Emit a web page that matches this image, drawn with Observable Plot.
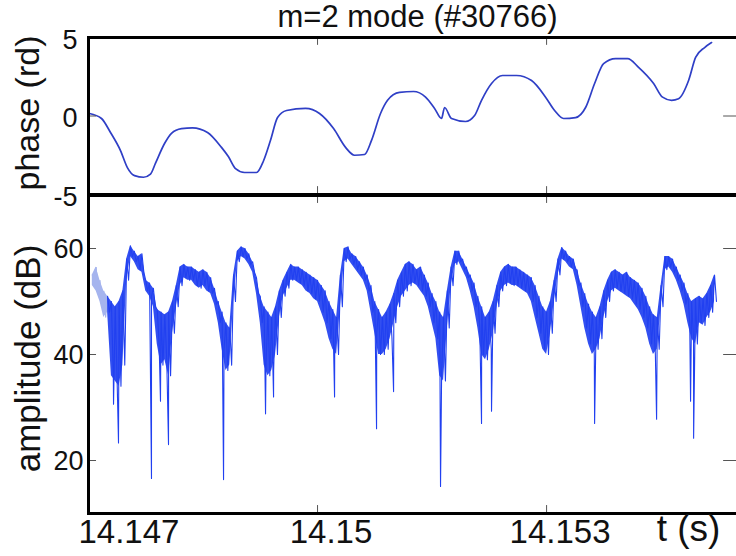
<!DOCTYPE html>
<html><head><meta charset="utf-8">
<script src="https://cdn.jsdelivr.net/npm/d3@7"></script>
<script src="https://cdn.jsdelivr.net/npm/@observablehq/plot@0.6"></script>
<style>
html,body{margin:0;padding:0;background:#fff;}
#wrap{position:relative;width:736px;height:556px;overflow:hidden;background:#fff;}
#wrap svg{position:absolute;left:0;top:0;max-width:none !important;background:transparent !important;overflow:visible;}
</style></head>
<body><div id="wrap"></div>
<script>
// ---- data ----
const titleText = "m=2 mode (#30766)";
const xTicks = [14.147, 14.15, 14.153];
const xTickLabels = ["14.147", "14.15", "14.153"];
const phaseTicks = [-5, 0, 5];
const phaseTickLabels = ["-5", "0", "5"];
const ampTicks = [20, 40, 60];
const ampTickLabels = ["20", "40", "60"];

// phase (rd) vs time (s)
const phaseT = [14.147013,14.147170,14.147288,14.147419,14.147511,14.147603,14.147721,14.147812,14.147878,14.147996,
14.148087,14.148218,14.148362,14.148559,14.148742,14.148834,14.148926,14.149044,14.149201,14.149293,
14.149384,14.149476,14.149594,14.149843,14.150026,14.150210,14.150367,14.150485,14.150616,14.150707,
14.150825,14.150917,14.151074,14.151258,14.151415,14.151533,14.151624,14.151664,14.151755,14.151939,
14.152057,14.152148,14.152279,14.152423,14.152607,14.152803,14.152987,14.153105,14.153223,14.153380,
14.153511,14.153629,14.153747,14.153904,14.154061,14.154205,14.154402,14.154519,14.154637,14.154729,
14.154860,14.154952,14.155070,14.155161];
const phaseV = [0.16,-0.16,-1.05,-2.2,-3.3,-3.8,-3.9,-3.7,-3.0,-1.75,
-1.1,-0.8,-0.75,-1.05,-2.0,-2.6,-3.35,-3.6,-3.6,-2.85,
-1.55,-0.1,0.35,0.48,0.16,-0.8,-2.0,-2.5,-2.45,-1.55,
0.16,1.0,1.5,1.56,1.2,0.48,-0.16,0.54,-0.16,-0.35,
0.03,1.0,2.07,2.58,2.58,2.26,1.2,0.35,-0.16,-0.1,
0.54,2.07,3.34,3.66,3.66,3.1,2.07,1.2,1.0,1.1,
2.26,3.73,4.36,4.68];

// amplitude (dB): sampled every 0.05 ms from 14.14705 s, upper and lower edge of the noisy trace
const ampT0 = 14.14705, ampDt = 0.00005, ampLightCount = 5;
const ampHi = [55,56.5,54,52,51,50,49,50,52,58,
60.5,59.5,58.5,59,54,53.5,52.5,48.5,48,47.5,
48,50,53,56.5,57,56.5,56.5,56,55.5,56,
55.5,54.5,52.5,50,48,46,45,55,59.5,60.3,
60,59,57.5,54.5,51,49,48,47,49,52,
54,55.5,57,56.5,56.5,56,55.5,55,54.5,54,
53,52,50,48.5,47,55,60,60.3,59,58.5,
57.5,56.5,55,53,50,48.5,47,48,49.5,51.5,
54,55.5,57,57.5,57,56,56.5,55,53.5,51.5,
50,48,47,52,56.5,59.5,59.5,58,56.5,55,
53.5,51,49,47,48,50,53,55.5,56.5,57,
56.5,56.5,56,55.5,55,54.5,53,51,49,48,
50,54,58,60.2,59.5,58.5,58,56,53.5,51.5,
49.5,48,47,49,52,54,55.5,56,55.5,55,
55.5,54.5,54,53.5,52.5,51,49,47.5,47,53,
58.5,58.5,58,56.5,55,53.5,51.5,50,50.5,51,
50.5,51.5,53,55];
const ampLo = [53,52,50,47,48,36,35,34,38,54,
58.5,57.5,56,55.5,52,51,49,42,38,39,
36,44,49,53,54.5,54,54,53,52.5,53,
52,51.5,49.5,46,41,37,38,50,57.5,58.5,
58,57,55.5,51.5,46,38,36,37,40,47,
51,52.5,54,54,53.5,53,52,51.5,50.5,50,
48,46,43,41,40,49,57.5,58,57,56,
55,54,52,48,44,40,40,41,43,46,
49,51,52,53,53.5,53,52,51,49,46,
43,36,35,45,53,57,57.5,56,54.5,52,
49,45,40,39,41,44,49,52,53,53.5,
53,53,52.5,52,51.5,50,47,44,41,40,
44,50,55,58,57.5,56.5,56,53,49,45,
42,40,41,43,47,50,52,52.5,52,51.5,
51,50.5,49.5,48.5,47,45,42,40,41,49,
56,56.5,55.5,54,52,49.5,46,43,42,46,
45.5,47,48,50];
// deep single-sample drops
const spikeT = [14.147328,14.147393,14.147825,14.147943,14.148048,14.148769,14.149319,14.149424,14.150223,
14.150773,14.150996,14.151611,14.152148,14.152279,14.153629,14.154441,14.154886,14.154926];
const spikeV = [30.6,23.3,16.6,31.2,23,16.4,28.8,32,32,26,33,15.1,27,29.3,27,27.8,31.2,24.2];

// ---- build tables ----
const phase = phaseT.map((t, i) => ({t, v: phaseV[i]}));
const band = ampHi.map((h, i) => ({t: ampT0 + i * ampDt, hi: h, lo: ampLo[i], light: i < ampLightCount}));
const ampPts = [];
band.forEach(b => {
  ampPts.push({t: b.t, v: b.hi});
  ampPts.push({t: b.t + ampDt / 2, v: b.lo});
});
spikeT.forEach((t, k) => ampPts.push({t, v: spikeV[k]}));
ampPts.sort((a, b) => a.t - b.t);
const tSplit = ampT0 + (ampLightCount - 1) * ampDt;
const ampLight = ampPts.filter(d => d.t <= tSplit);
const ampMain = ampPts.filter(d => d.t >= tSplit);
const bandLight = band.filter(b => b.t <= tSplit);
const bandMain = band.filter(b => b.t >= tSplit);

// ---- style ----
const font = "Liberation Sans, Arial, Helvetica, sans-serif";
const W = 744, H = 556, ML = 88, MR = 4;
const xDomain = [14.147, 14.15554];
const xLeftTickEnd = 14.147105, xRightTickStart = 14.155319;
const ampColor = "#2140f0", phaseColor = "#2f3fc6", lightColor = "#a5b4ee";
const tickColor = "#555";

const topPlot = Plot.plot({
  width: W, height: H, marginLeft: ML, marginRight: MR, marginTop: 37, marginBottom: H - 194,
  x: {domain: xDomain, axis: null},
  y: {domain: [-5, 5], axis: null},
  style: {fontFamily: font, background: "transparent"},
  marks: [
    Plot.line(phase, {x: "t", y: "v", stroke: phaseColor, strokeWidth: 1.7, curve: "monotone-x", clip: true}),
    Plot.ruleX(xTicks, {x: d => d, y1: 5, y2: 4.5, stroke: tickColor}),
    Plot.ruleX(xTicks, {x: d => d, y1: -5, y2: -4.5, stroke: tickColor}),
    Plot.ruleY(phaseTicks, {y: d => d, x1: xDomain[0], x2: xLeftTickEnd, stroke: tickColor}),
    Plot.ruleY(phaseTicks, {y: d => d, x1: xRightTickStart, x2: xDomain[1], stroke: tickColor}),
    Plot.frame({stroke: "#000", strokeWidth: 3}),
    Plot.text(phaseTicks, {y: d => d, text: (d, i) => phaseTickLabels[i], frameAnchor: "left", textAnchor: "end",
      lineAnchor: "middle", dx: -11, dy: 2.5, fontSize: 27, fill: "#111", fontFamily: font}),
    Plot.text([titleText], {text: d => d, frameAnchor: "top", lineAnchor: "bottom", dy: -11, dx: 3,
      fontSize: 31, fill: "#111", fontFamily: font}),
    Plot.text(["phase (rd)"], {text: d => d, frameAnchor: "left", rotate: -90, textAnchor: "middle",
      lineAnchor: "middle", dx: -60, dy: -3, fontSize: 34, fill: "#111", fontFamily: font})
  ]
});

const botPlot = Plot.plot({
  width: W, height: H, marginLeft: ML, marginRight: MR, marginTop: 195, marginBottom: H - 513,
  x: {domain: xDomain, axis: null},
  y: {domain: [10, 70], axis: null},
  style: {fontFamily: font, background: "transparent"},
  marks: [
    Plot.areaY(bandLight, {x: "t", y1: "lo", y2: "hi", fill: lightColor, clip: true}),
    Plot.line(ampLight, {x: "t", y: "v", stroke: lightColor, strokeWidth: 1, clip: true}),
    Plot.areaY(bandMain, {x: "t", y1: "lo", y2: "hi", fill: ampColor, fillOpacity: 0.92, clip: true}),
    Plot.line(ampMain, {x: "t", y: "v", stroke: ampColor, strokeWidth: 1.1, clip: true}),
    Plot.ruleX(xTicks, {x: d => d, y1: 70, y2: 68.5, stroke: tickColor}),
    Plot.ruleX(xTicks, {x: d => d, y1: 10, y2: 11.5, stroke: tickColor}),
    Plot.ruleY(ampTicks, {y: d => d, x1: xDomain[0], x2: xLeftTickEnd, stroke: tickColor}),
    Plot.ruleY(ampTicks, {y: d => d, x1: xRightTickStart, x2: xDomain[1], stroke: tickColor}),
    Plot.frame({stroke: "#000", strokeWidth: 3}),
    Plot.text(ampTicks, {y: d => d, text: (d, i) => ampTickLabels[i], frameAnchor: "left", textAnchor: "end",
      lineAnchor: "middle", dx: -5, dy: 1, fontSize: 27, fill: "#111", fontFamily: font}),
    Plot.text(xTicks.slice(0, 1), {x: d => d, text: (d, i) => xTickLabels[i], frameAnchor: "bottom",
      textAnchor: "start", lineAnchor: "bottom", dx: -10, dy: 29, fontSize: 33, fill: "#111", fontFamily: font}),
    Plot.text(xTicks.slice(1), {x: d => d, text: (d, i) => xTickLabels[i + 1], frameAnchor: "bottom",
      textAnchor: "middle", lineAnchor: "bottom", dx: 13.5, dy: 29, fontSize: 33, fill: "#111", fontFamily: font}),
    Plot.text(["t (s)"], {text: d => d, frameAnchor: "bottom-right", textAnchor: "middle", lineAnchor: "bottom",
      dx: -52, dy: 27, fontSize: 37, fill: "#111", fontFamily: font}),
    Plot.text(["amplitude (dB)"], {text: d => d, frameAnchor: "left", rotate: -90, textAnchor: "middle",
      lineAnchor: "middle", dx: -60, dy: 4, fontSize: 35, fill: "#111", fontFamily: font})
  ]
});

const wrap = document.getElementById("wrap");
wrap.appendChild(topPlot);
wrap.appendChild(botPlot);
</script>
</body></html>
